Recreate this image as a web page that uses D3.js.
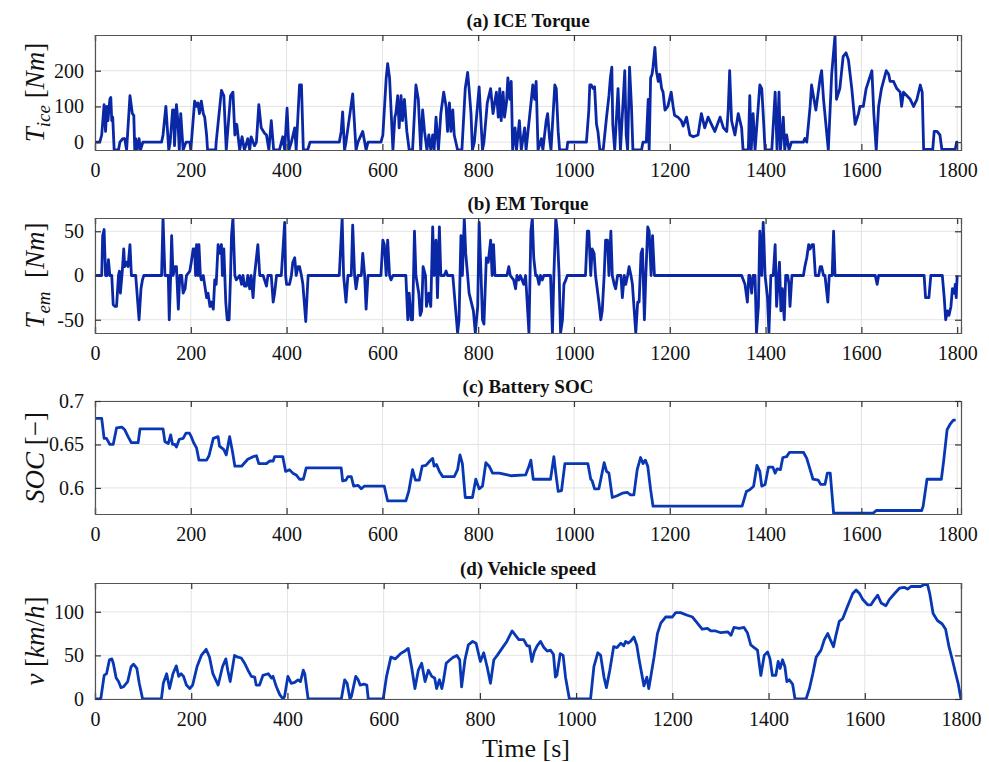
<!DOCTYPE html>
<html><head><meta charset="utf-8">
<script src="https://cdn.jsdelivr.net/npm/d3@7"></script>
<style>body{margin:0;background:#fff;} svg{display:block;}</style>
</head><body>
<svg id="chart" width="989" height="762"></svg>
<script>
// ---------- DATA ----------
const xTicks = [0,200,400,600,800,1000,1200,1400,1600,1800];
const titles = ["(a) ICE Torque","(b) EM Torque","(c) Battery SOC","(d) Vehicle speed"];
const iceTicks = [0,100,200];
const emTicks = [-50,0,50];
const socTicks = [0.6,0.65,0.7];
const speedTicks = [0,50,100];

const iceTorque = [[0,0],[10,0],[14,20],[19,105],[22,30],[25,100],[27,60],[31,120],[33,125],[35,60],[37,70],[40,-22],[49,-22],[52,0],[58,10],[62,10],[66,-22],[73,130],[78,80],[81,75],[83,-22],[85,10],[88,-22],[92,10],[95,-22],[100,0],[139,0],[142,20],[148,100],[154,-22],[157,0],[162,90],[164,90],[166,-10],[170,105],[173,60],[176,-22],[179,80],[184,-22],[190,0],[198,0],[200,-22],[208,115],[212,100],[215,110],[218,80],[222,115],[226,80],[229,70],[233,20],[235,-22],[252,-22],[253,0],[264,145],[269,130],[274,-22],[283,130],[288,140],[292,20],[296,50],[302,-22],[307,15],[312,-22],[319,10],[323,-22],[326,15],[333,-10],[337,0],[342,105],[347,40],[354,25],[358,20],[363,-22],[368,60],[373,-22],[385,-22],[392,15],[396,-22],[401,95],[405,-22],[410,0],[417,40],[420,-22],[427,160],[431,160],[435,-22],[444,-22],[449,0],[510,0],[514,30],[517,85],[521,-22],[524,0],[538,135],[545,-22],[549,0],[559,30],[566,-22],[570,0],[597,0],[601,20],[608,180],[611,220],[615,180],[622,-22],[626,70],[628,80],[632,130],[635,40],[639,130],[642,60],[646,120],[651,30],[656,-22],[663,-22],[670,160],[675,120],[680,-22],[684,90],[688,30],[693,-22],[697,20],[701,-22],[705,20],[708,-22],[712,70],[717,-22],[722,80],[728,140],[733,100],[736,30],[740,110],[743,30],[747,90],[750,20],[757,-22],[766,-22],[773,150],[778,195],[781,150],[785,80],[788,-22],[792,0],[802,155],[809,-22],[812,0],[819,110],[826,150],[831,80],[838,140],[842,70],[845,150],[848,60],[852,140],[855,70],[859,110],[862,180],[866,120],[869,170],[872,-22],[877,40],[880,-22],[886,60],[890,-22],[897,40],[900,-22],[911,120],[914,160],[918,120],[921,170],[925,-22],[932,10],[935,-22],[942,60],[945,80],[949,10],[952,-22],[960,160],[963,150],[967,30],[970,-22],[985,-22],[987,0],[1026,0],[1031,90],[1033,160],[1036,160],[1040,150],[1043,155],[1047,50],[1050,30],[1054,-22],[1061,-22],[1068,70],[1073,130],[1076,180],[1079,210],[1081,50],[1085,-22],[1092,150],[1097,-22],[1106,200],[1109,20],[1112,-22],[1116,210],[1120,100],[1123,-22],[1141,-22],[1144,0],[1151,0],[1155,120],[1157,-22],[1160,180],[1163,190],[1165,210],[1169,265],[1172,200],[1176,170],[1179,190],[1183,150],[1186,140],[1190,90],[1196,100],[1203,140],[1207,100],[1210,75],[1217,70],[1224,60],[1228,45],[1235,70],[1242,20],[1249,15],[1259,20],[1266,80],[1273,40],[1280,70],[1287,50],[1294,30],[1305,70],[1312,40],[1319,30],[1322,90],[1325,200],[1329,60],[1336,20],[1343,80],[1350,40],[1353,-22],[1364,-22],[1367,130],[1370,-22],[1374,80],[1378,-22],[1388,160],[1392,150],[1395,80],[1399,-22],[1413,-22],[1420,140],[1424,-22],[1428,140],[1431,-22],[1437,70],[1440,-22],[1444,20],[1449,-22],[1454,0],[1479,0],[1482,10],[1486,0],[1493,100],[1496,160],[1501,120],[1505,90],[1514,180],[1517,200],[1521,120],[1531,-22],[1538,190],[1545,300],[1548,120],[1555,150],[1562,240],[1568,250],[1573,230],[1580,150],[1587,50],[1594,80],[1597,100],[1604,100],[1610,150],[1622,200],[1626,80],[1631,-22],[1636,100],[1642,150],[1652,200],[1657,190],[1660,170],[1667,170],[1674,150],[1681,140],[1684,100],[1688,140],[1695,130],[1702,120],[1709,100],[1716,120],[1723,160],[1727,140],[1730,-20],[1749,-20],[1752,30],[1758,30],[1764,20],[1768,-20],[1796,-20],[1799,0],[1802,0]];

const emTorque = [[0,0],[14,0],[16,45],[19,52],[22,0],[25,0],[28,18],[31,0],[35,0],[38,-33],[42,-35],[45,-35],[49,0],[51,5],[53,-20],[57,5],[60,30],[62,10],[66,15],[69,10],[73,35],[76,0],[85,0],[92,-50],[96,-15],[99,-5],[102,0],[139,0],[142,65],[146,0],[153,0],[155,-50],[158,0],[160,45],[163,0],[167,10],[170,10],[174,-38],[177,0],[181,0],[184,-20],[188,-15],[191,0],[198,5],[201,15],[205,30],[208,30],[210,0],[212,35],[215,0],[217,35],[220,0],[222,-5],[226,0],[233,-25],[236,-20],[240,-35],[243,-30],[247,-38],[250,-5],[253,-10],[257,35],[260,25],[264,35],[266,0],[269,30],[273,-30],[276,-50],[280,-50],[283,0],[285,45],[288,65],[292,0],[295,-5],[302,0],[306,-10],[309,0],[312,-12],[316,-12],[319,0],[323,-15],[326,0],[330,-25],[333,0],[340,35],[344,0],[351,0],[358,-12],[361,0],[368,0],[372,-30],[375,-20],[379,0],[389,0],[396,60],[398,0],[400,-10],[406,-10],[410,0],[413,15],[417,20],[420,0],[424,10],[427,10],[431,0],[434,-10],[440,-52],[443,-20],[445,0],[510,0],[516,65],[519,0],[524,-30],[528,0],[535,0],[538,57],[542,0],[545,-15],[549,0],[556,0],[559,25],[563,0],[566,-38],[570,0],[597,0],[601,40],[604,35],[608,0],[611,40],[615,0],[618,-5],[622,0],[649,0],[653,-50],[656,-20],[660,-50],[663,-50],[667,50],[670,0],[676,-20],[679,-45],[682,-40],[685,10],[690,0],[692,-35],[697,-20],[701,-35],[705,55],[708,0],[712,40],[715,-25],[719,55],[722,0],[729,0],[733,5],[736,0],[747,0],[757,-65],[760,-50],[764,45],[767,0],[771,65],[774,25],[778,0],[781,-20],[790,-40],[794,-65],[799,-35],[802,60],[806,0],[809,-50],[812,-55],[817,20],[821,15],[826,40],[829,0],[832,35],[835,0],[860,0],[864,10],[867,0],[874,-5],[878,-15],[881,0],[885,-5],[888,0],[895,-10],[899,0],[906,-65],[910,50],[913,65],[916,20],[920,0],[923,0],[927,-10],[930,0],[934,-5],[937,0],[951,0],[955,-65],[958,0],[962,65],[965,50],[969,0],[972,-65],[976,-50],[979,-10],[983,-5],[986,0],[1024,0],[1028,50],[1031,50],[1035,0],[1038,30],[1042,25],[1045,0],[1052,-30],[1056,-50],[1059,-40],[1063,0],[1066,40],[1070,40],[1073,0],[1077,50],[1080,0],[1084,-10],[1087,-15],[1091,0],[1098,0],[1101,-25],[1105,0],[1108,-10],[1112,0],[1115,10],[1119,0],[1122,-10],[1129,-65],[1133,-30],[1136,-30],[1140,25],[1143,30],[1147,-50],[1150,0],[1154,55],[1157,50],[1161,0],[1164,45],[1168,0],[1350,0],[1357,-10],[1362,-30],[1365,0],[1367,0],[1371,-20],[1374,0],[1378,0],[1381,-65],[1385,-35],[1388,50],[1392,0],[1395,60],[1399,0],[1404,-25],[1407,-65],[1411,0],[1416,0],[1420,35],[1423,-35],[1427,0],[1429,15],[1432,-40],[1435,-15],[1439,-50],[1442,0],[1446,0],[1449,-10],[1451,-35],[1455,0],[1479,0],[1482,10],[1486,20],[1490,35],[1493,30],[1497,35],[1500,35],[1504,0],[1511,0],[1514,10],[1517,10],[1521,0],[1524,0],[1530,-30],[1533,0],[1539,0],[1542,50],[1545,0],[1629,0],[1633,-10],[1636,0],[1731,0],[1734,-25],[1741,-25],[1745,0],[1769,0],[1773,-25],[1776,-50],[1780,-40],[1783,-45],[1787,-35],[1790,-15],[1794,-20],[1796,-10],[1798,-25],[1800,0]];

const batterySoc = [[0,0.680],[14,0.680],[19,0.657],[24,0.657],[31,0.650],[38,0.650],[45,0.669],[56,0.670],[62,0.667],[69,0.659],[76,0.652],[90,0.652],[94,0.668],[142,0.668],[146,0.653],[153,0.651],[158,0.661],[162,0.650],[167,0.650],[170,0.647],[176,0.656],[184,0.657],[190,0.663],[197,0.663],[201,0.659],[206,0.652],[212,0.646],[217,0.632],[233,0.632],[238,0.637],[247,0.657],[257,0.659],[260,0.648],[269,0.644],[274,0.638],[281,0.659],[287,0.642],[292,0.625],[306,0.625],[319,0.633],[330,0.636],[337,0.637],[342,0.628],[358,0.628],[365,0.631],[372,0.631],[375,0.636],[392,0.636],[398,0.619],[406,0.621],[413,0.617],[420,0.615],[427,0.610],[435,0.610],[441,0.623],[514,0.623],[517,0.608],[524,0.609],[528,0.613],[535,0.613],[540,0.602],[549,0.603],[556,0.599],[562,0.602],[604,0.602],[611,0.585],[649,0.585],[655,0.596],[663,0.621],[669,0.609],[677,0.609],[683,0.625],[691,0.626],[699,0.631],[705,0.634],[708,0.625],[713,0.627],[719,0.619],[726,0.613],[750,0.613],[757,0.621],[762,0.638],[767,0.628],[773,0.589],[788,0.589],[795,0.610],[802,0.599],[809,0.602],[816,0.629],[823,0.625],[830,0.617],[844,0.617],[861,0.615],[868,0.614],[899,0.615],[906,0.625],[910,0.632],[915,0.610],[951,0.610],[958,0.636],[962,0.617],[967,0.596],[974,0.597],[981,0.628],[1029,0.628],[1035,0.610],[1038,0.608],[1043,0.599],[1052,0.599],[1063,0.629],[1068,0.619],[1073,0.617],[1080,0.589],[1090,0.591],[1101,0.594],[1111,0.595],[1118,0.592],[1125,0.592],[1132,0.621],[1139,0.635],[1144,0.628],[1149,0.632],[1154,0.625],[1160,0.598],[1165,0.579],[1351,0.579],[1360,0.596],[1367,0.598],[1375,0.602],[1382,0.626],[1388,0.619],[1392,0.602],[1399,0.604],[1406,0.624],[1415,0.624],[1420,0.617],[1424,0.622],[1431,0.621],[1436,0.635],[1444,0.636],[1450,0.641],[1479,0.641],[1486,0.634],[1493,0.621],[1499,0.610],[1510,0.609],[1515,0.604],[1524,0.604],[1529,0.617],[1535,0.617],[1542,0.571],[1625,0.571],[1631,0.574],[1726,0.574],[1729,0.579],[1737,0.610],[1767,0.610],[1772,0.632],[1779,0.667],[1785,0.673],[1792,0.678],[1797,0.678]];

const vehicleSpeed = [[0,0],[12,0],[19,27],[24,29],[30,45],[35,46],[38,41],[44,24],[49,20],[54,13],[59,14],[68,20],[75,37],[80,40],[87,35],[92,18],[99,0],[138,0],[142,18],[149,29],[155,12],[162,29],[169,38],[174,26],[179,29],[184,26],[190,16],[197,12],[203,16],[212,37],[221,50],[231,57],[238,48],[245,29],[256,16],[265,37],[272,46],[276,33],[281,20],[290,50],[297,48],[304,47],[311,41],[318,33],[325,26],[332,25],[335,16],[342,16],[349,27],[360,29],[367,24],[370,26],[377,14],[384,5],[391,0],[394,3],[401,26],[408,18],[415,19],[422,22],[427,20],[433,33],[436,29],[443,0],[512,0],[519,22],[524,18],[530,0],[533,3],[542,26],[547,22],[551,16],[559,17],[565,16],[568,0],[599,0],[606,26],[615,48],[624,46],[635,52],[644,55],[651,58],[658,37],[665,12],[672,33],[679,41],[686,20],[693,33],[700,26],[706,24],[710,12],[716,22],[721,12],[724,20],[730,41],[738,45],[745,48],[752,50],[758,45],[762,14],[769,45],[776,62],[785,66],[792,64],[801,43],[808,53],[815,37],[822,18],[829,45],[836,50],[846,58],[856,66],[867,78],[874,73],[881,68],[891,68],[898,61],[903,61],[908,43],[913,54],[919,61],[926,66],[933,59],[940,55],[947,56],[953,51],[957,25],[960,27],[967,52],[973,50],[978,25],[986,0],[1030,0],[1037,37],[1045,53],[1051,50],[1058,25],[1063,13],[1070,33],[1078,60],[1085,59],[1093,64],[1099,61],[1103,66],[1108,64],[1113,66],[1120,71],[1126,62],[1131,45],[1138,24],[1141,15],[1147,25],[1151,12],[1155,25],[1162,48],[1169,75],[1176,87],[1186,94],[1200,94],[1207,99],[1217,99],[1231,96],[1242,94],[1252,87],[1262,80],[1273,81],[1280,78],[1290,78],[1301,76],[1315,77],[1322,73],[1328,82],[1339,81],[1349,82],[1356,76],[1363,62],[1370,59],[1377,56],[1384,27],[1391,50],[1398,54],[1403,46],[1408,27],[1415,27],[1420,43],[1424,35],[1429,45],[1434,37],[1438,20],[1443,22],[1450,17],[1455,0],[1478,0],[1485,12],[1492,29],[1499,48],[1509,56],[1516,68],[1523,75],[1530,66],[1535,60],[1540,73],[1547,89],[1554,92],[1564,106],[1575,121],[1582,125],[1589,121],[1596,114],[1606,108],[1613,108],[1620,114],[1627,119],[1634,110],[1644,107],[1651,114],[1662,121],[1672,127],[1682,128],[1689,126],[1696,129],[1706,129],[1716,129],[1723,131],[1730,132],[1735,121],[1742,98],[1751,90],[1761,86],[1768,80],[1775,60],[1782,45],[1789,29],[1794,18],[1800,0]];

// ---------- LAYOUT ----------
const svg = d3.select("#chart");
svg.append("rect").attr("width",989).attr("height",762).attr("fill","#fff");
const FONT = "Liberation Serif";
const left = 95, right = 961;

const panels = [
  {data: iceTorque, top: 35, bottom: 150, xmax: 1808, ydom: [-22,300], ticks: iceTicks, fmt: d=>d, color:"#0a28a6", label: "ice"},
  {data: emTorque, top: 218, bottom: 333, xmax: 1808, ydom: [-65,65], ticks: emTicks, fmt: d=>d, color:"#0a28a6", label: "em"},
  {data: batterySoc, top: 401, bottom: 514, xmax: 1808, ydom: [0.57,0.70], ticks: socTicks, fmt: d=>String(d), color:"#0838b4", label: "soc"},
  {data: vehicleSpeed, top: 583, bottom: 699, xmax: 1800, ydom: [0,133], ticks: speedTicks, fmt: d=>d, color:"#0838b4", label: "v"}
];

function txt(sel, size, weight, style) {
  sel.style("font-family", FONT).style("font-size", size + "px").attr("fill", "#111");
  if (weight) sel.style("font-weight", weight);
  if (style) sel.style("font-style", style);
  return sel;
}

panels.forEach((p, i) => {
  const x = d3.scaleLinear().domain([0, p.xmax]).range([left, right]);
  const y = d3.scaleLinear().domain(p.ydom).range([p.bottom, p.top]);
  const g = svg.append("g");
  const h = p.bottom - p.top;

  g.append("g").selectAll("line").data(xTicks).join("line")
    .attr("x1", d=>x(d)).attr("x2", d=>x(d)).attr("y1", p.top).attr("y2", p.bottom)
    .attr("stroke","#e3e3e3").attr("stroke-width",1);
  g.append("g").selectAll("line").data(p.ticks).join("line")
    .attr("x1", left).attr("x2", right).attr("y1", d=>y(d)).attr("y2", d=>y(d))
    .attr("stroke","#e3e3e3").attr("stroke-width",1);

  const cid = "clip"+i;
  svg.append("clipPath").attr("id",cid).append("rect")
    .attr("x",left).attr("y",p.top).attr("width",right-left).attr("height",h);

  const line = d3.line().x(d=>x(d[0])).y(d=>y(d[1]));
  g.append("path").datum(p.data).attr("d",line).attr("fill","none")
    .attr("stroke",p.color).attr("stroke-width",2.8).attr("stroke-linejoin","round")
    .attr("clip-path",`url(#${cid})`);

  const ax = g.append("g");
  const xb = d3.axisBottom(x).tickValues(xTicks).tickSize(-6).tickPadding(13).tickFormat(d3.format("d"));
  const xt = d3.axisTop(x).tickValues(xTicks).tickSize(-6).tickFormat("");
  const yl = d3.axisLeft(y).tickValues(p.ticks).tickSize(-6).tickPadding(11).tickFormat(p.fmt);
  const yr = d3.axisRight(y).tickValues(p.ticks).tickSize(-6).tickFormat("");
  const axes = [
    ax.append("g").attr("transform",`translate(0,${p.bottom})`).call(xb),
    ax.append("g").attr("transform",`translate(0,${p.top})`).call(xt),
    ax.append("g").attr("transform",`translate(${left},0)`).call(yl),
    ax.append("g").attr("transform",`translate(${right},0)`).call(yr)
  ];
  axes.forEach(a => {
    a.attr("font-family", null).attr("font-size", null);
    a.select(".domain").attr("stroke","#555").attr("stroke-width",1.2);
    a.selectAll(".tick line").attr("stroke","#333").attr("stroke-width",1.2);
    txt(a.selectAll(".tick text"), 20);
  });

  txt(svg.append("text").attr("x",(left+right)/2).attr("y",p.top-8)
    .attr("text-anchor","middle"), 19, "bold").text(titles[i]);

  const cy = (p.top+p.bottom)/2;
  const t = txt(svg.append("text").attr("transform",`translate(44,${cy}) rotate(-90)`)
    .attr("text-anchor","middle"), 27);
  if (p.label === "ice" || p.label === "em") {
    t.append("tspan").style("font-style","italic").text("T");
    t.append("tspan").style("font-style","italic").style("font-size","19px").attr("dy",6).text(p.label);
    t.append("tspan").attr("dy",-6).text(p.label==="em" ? "\u00a0\u00a0[" : "\u00a0[");
    t.append("tspan").style("font-style","italic").text("Nm");
    t.append("tspan").text("]");
  } else if (p.label === "soc") {
    t.append("tspan").style("font-style","italic").text("SOC");
    t.append("tspan").text("\u00a0[\u2212]");
  } else {
    t.append("tspan").style("font-style","italic").text("v");
    t.append("tspan").text("\u00a0[");
    t.append("tspan").style("font-style","italic").text("km");
    t.append("tspan").text("/");
    t.append("tspan").style("font-style","italic").text("h");
    t.append("tspan").text("]");
  }
});

txt(svg.append("text").attr("x",526).attr("y",757).attr("text-anchor","middle"), 26).text("Time [s]");
</script>
</body></html>
